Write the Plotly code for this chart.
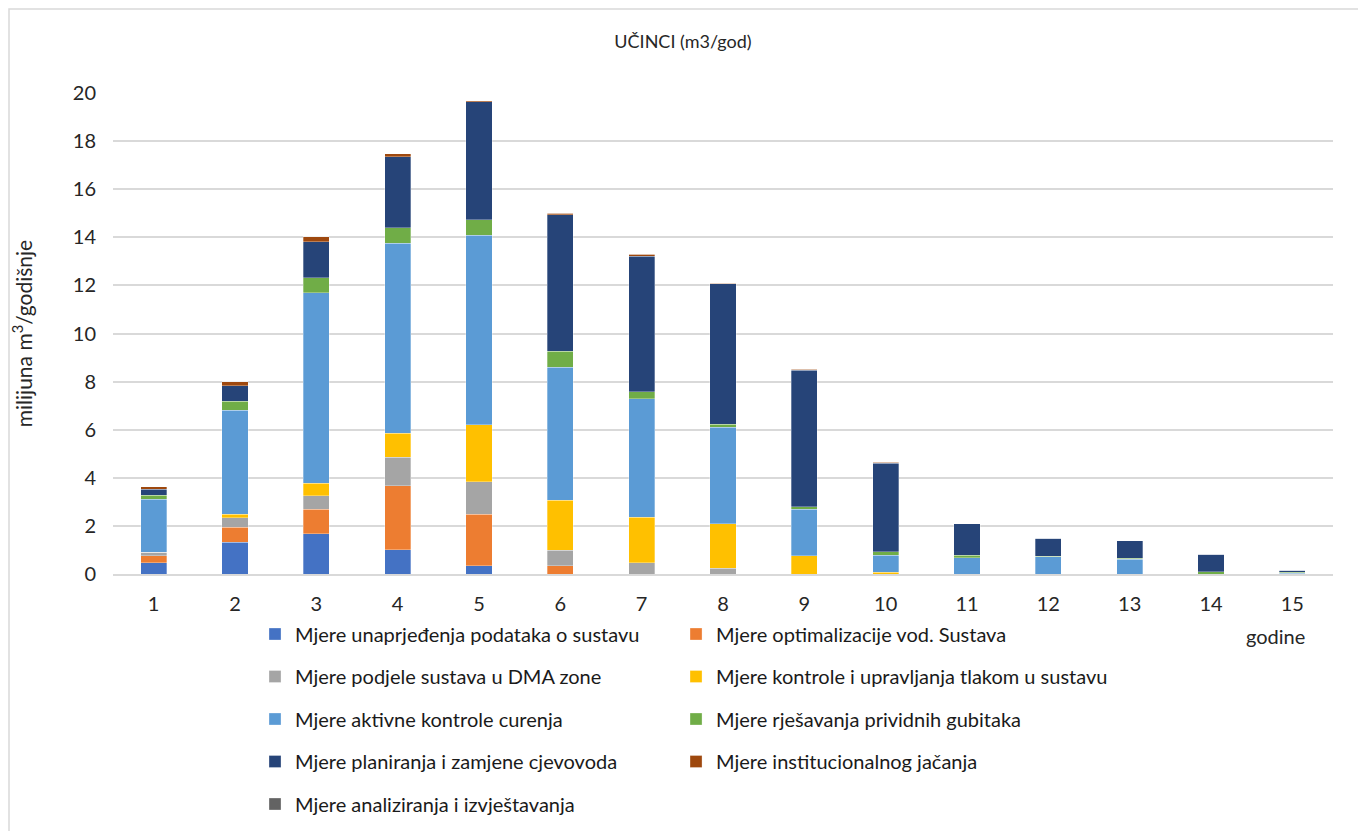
import plotly.graph_objects as go

# godine (x-axis categories)
years = [str(i) for i in range(1, 16)]

# mjere - stacked in this order (bottom to top)
names = [
    "Mjere unaprjeđenja podataka o sustavu",
    "Mjere optimalizacije vod. Sustava",
    "Mjere podjele sustava u DMA zone",
    "Mjere kontrole i upravljanja tlakom u sustavu",
    "Mjere aktivne kontrole curenja",
    "Mjere rješavanja prividnih gubitaka",
    "Mjere planiranja i zamjene cjevovoda",
    "Mjere institucionalnog jačanja",
    "Mjere analiziranja i izvještavanja",
]

podaci = [0.46, 1.32, 1.68, 1.01, 0.35, 0, 0, 0, 0, 0, 0, 0, 0, 0, 0]
optimalizacija = [0.30, 0.63, 1.02, 2.66, 2.13, 0.35, 0, 0, 0, 0, 0, 0, 0, 0, 0]
dma_zone = [0.14, 0.39, 0.56, 1.19, 1.36, 0.64, 0.46, 0.24, 0, 0, 0, 0, 0, 0, 0]
tlak = [0.0, 0.15, 0.52, 1.00, 2.36, 2.07, 1.90, 1.84, 0.75, 0.08, 0, 0, 0, 0, 0]
curenje = [2.20, 4.32, 7.92, 7.89, 7.88, 5.53, 4.93, 4.02, 1.94, 0.71, 0.68, 0.71, 0.62, 0.0, 0.03]
prividni = [0.18, 0.37, 0.62, 0.64, 0.65, 0.68, 0.29, 0.12, 0.10, 0.14, 0.10, 0.03, 0.04, 0.10, 0.05]
cjevovodi = [0.24, 0.64, 1.50, 2.96, 4.91, 5.67, 5.64, 5.84, 5.69, 3.67, 1.31, 0.75, 0.72, 0.73, 0.07]
institucije = [0.11, 0.18, 0.21, 0.12, 0.04, 0.07, 0.08, 0.03, 0.04, 0.04, 0, 0, 0, 0, 0]
analize = [0, 0, 0, 0, 0, 0, 0, 0, 0, 0, 0, 0, 0, 0, 0]

series = [podaci, optimalizacija, dma_zone, tlak, curenje, prividni, cjevovodi, institucije, analize]
colors = ["#4472C4", "#ED7D31", "#A5A5A5", "#FFC000", "#5B9BD5",
          "#70AD47", "#264478", "#9E480E", "#636363"]

FONT = "Lato"
TXT = "#262626"
W, H = 1358, 823          # page body adds an 8px offset
L, R, T, B = 105, 33, 85, 257
PW, PH = W - L - R, H - T - B

fig = go.Figure()

for i, (name, vals, col) in enumerate(zip(names, series, colors)):
    fig.add_trace(go.Bar(
        x=years, y=vals, name=name,
        marker=dict(color=col, line=dict(color="rgba(255,255,255,0.5)", width=0.6)),
        legend="legend" if i % 2 == 0 else "legend2",
        legendgroup=name,
    ))

legend_style = dict(
    orientation="v", xanchor="left", yanchor="top", y=-0.0842,
    font=dict(family=FONT, size=20, color="#1a1a1a"),
    tracegroupgap=13.5, traceorder="grouped", bgcolor="rgba(0,0,0,0)",
)

fig.update_layout(
    width=W, height=H,
    barmode="stack", bargap=0.68,
    plot_bgcolor="white", paper_bgcolor="white",
    margin=dict(l=L, r=R, t=T, b=B, autoexpand=False),
    font=dict(family=FONT, size=19, color=TXT),
    title=dict(text="UČINCI (m3/god)", x=675 / W, xanchor="center",
               y=1 - 34 / H, yanchor="middle",
               font=dict(family=FONT, size=18, color=TXT)),
    legend=dict(x=0.1164, **legend_style),
    legend2=dict(x=0.4615, **legend_style),
    showlegend=True,
)

fig.update_yaxes(
    range=[0, 20], dtick=2, showgrid=True, gridcolor="#d9d9d9", gridwidth=1.5,
    zeroline=False, showline=False, ticks="", ticklabelstandoff=16,
    tickfont=dict(family=FONT, size=20, color=TXT), automargin=False,
    title=dict(text="milijuna m<sup>3</sup>/godišnje", standoff=50,
               font=dict(family=FONT, size=21, color=TXT)),
)
fig.update_xaxes(
    showline=True, linecolor="#d9d9d9", linewidth=1.5, ticks="",
    showgrid=False, ticklabelstandoff=11, automargin=False,
    tickfont=dict(family=FONT, size=20, color=TXT),
)

fig.add_annotation(text="godine", xref="paper", yref="paper",
                   x=(1275 - 113) / PW, y=(574 - 636) / PH,
                   xanchor="center", yanchor="middle",
                   showarrow=False, font=dict(family=FONT, size=20, color=TXT))

# chart area frame
fig.add_shape(type="rect", xref="paper", yref="paper",
              x0=(1 - L) / PW, x1=(1354 - L) / PW,
              y0=(T + PH - 900) / PH, y1=(T + PH - 1) / PH,
              line=dict(color="#d9d9d9", width=1.5), layer="below")

fig.write_html("out.html")
